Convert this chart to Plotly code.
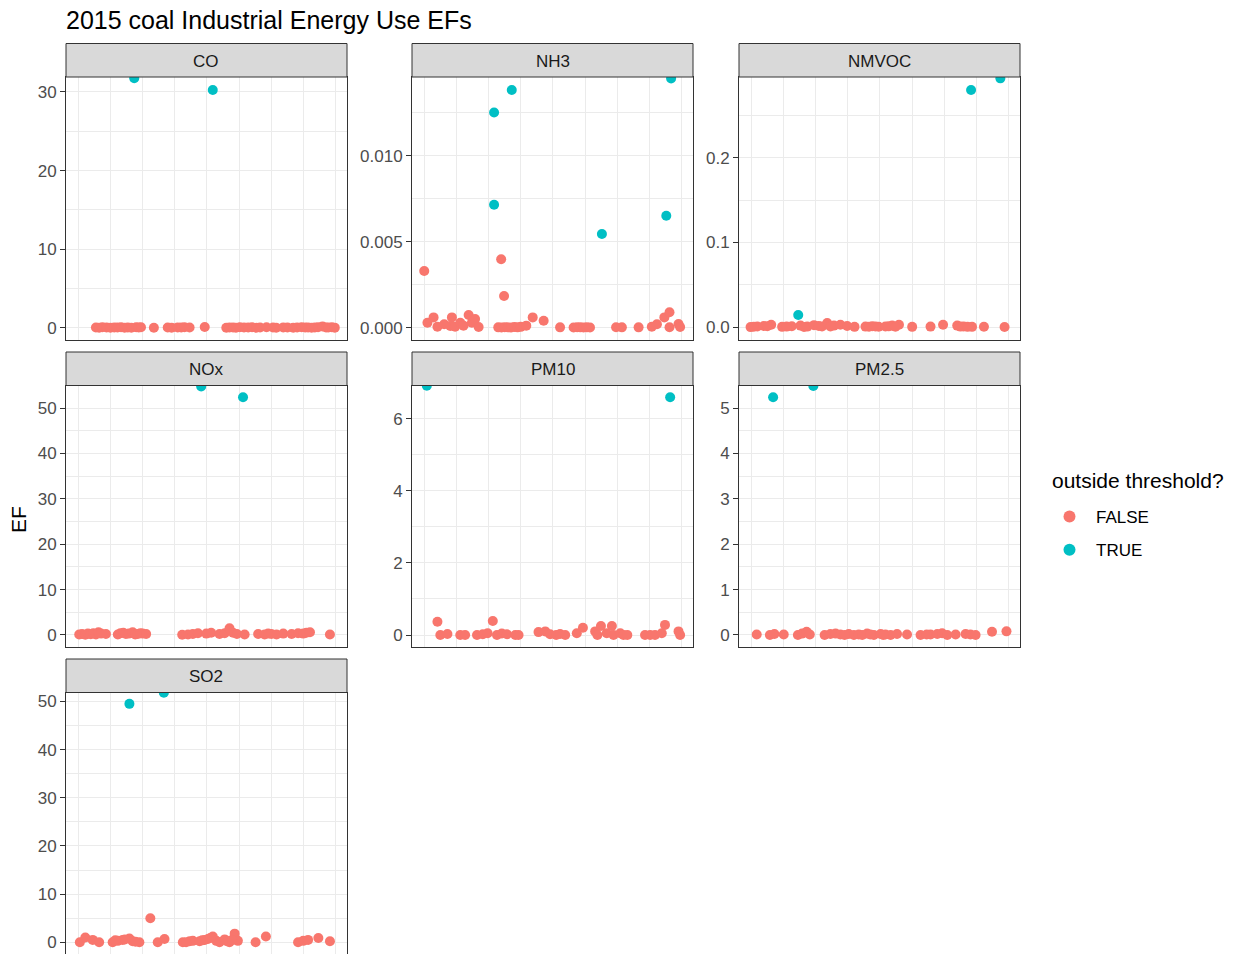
import plotly.graph_objects as go

F, T = False, True

POLLUTANTS = ["CO", "NH3", "NMVOC", "NOx", "PM10", "PM2.5", "SO2"]
LEGEND_TITLE = "outside threshold?"
TITLE = "2015 coal Industrial Energy Use EFs"
Y_TITLE = "EF"

# ---- emission factors per pollutant: source position, EF value, outside-threshold flag ----
CO_X = [1.74, 4.18,
        0.55, 0.65, 0.75, 0.88, 1.00, 1.12, 1.22, 1.33, 1.44, 1.54, 1.65, 1.80, 1.88, 1.95,
        2.35, 2.78, 2.90, 3.09, 3.20, 3.30, 3.46, 3.93, 4.60, 4.70, 4.81, 4.90, 5.02, 5.15,
        5.28, 5.40, 5.53, 5.65, 5.85, 6.05, 6.15, 6.37, 6.50, 6.68, 6.80, 6.94, 7.05, 7.14,
        7.25, 7.35, 7.45, 7.59, 7.70, 7.77, 7.88, 7.97]
CO_EF = [31.74, 30.25,
         0.05, 0.04, 0.08, 0.06, 0.03, 0.07, 0.05, 0.09, 0.04, 0.06, 0.02, 0.08, 0.05, 0.10,
         0.03, 0.06, 0.04, 0.07, 0.05, 0.08, 0.06, 0.12, 0.03, 0.05, 0.07, 0.04, 0.09, 0.06,
         0.05, 0.08, 0.04, 0.06, 0.10, 0.05, 0.03, 0.07, 0.06, 0.04, 0.05, 0.08, 0.06, 0.05,
         0.04, 0.07, 0.09, 0.20, 0.06, 0.05, 0.08, 0.04]
CO_OUT = [T, T] + [F] * 50

NH3_X = [2.17, 2.72, 2.17, 5.52, 7.52, 7.67,
         0.00, 2.39, 2.48,
         0.10, 0.29, 0.41, 0.62, 0.81, 0.86, 0.96, 1.12, 1.22, 1.38, 1.48, 1.58, 1.69,
         2.30, 2.40, 2.50, 2.60, 2.70, 2.80, 2.90, 3.00, 3.17, 3.37, 3.71, 4.22,
         4.64, 4.75, 4.85, 4.95, 5.05, 5.15, 5.96, 6.14, 6.66, 7.07, 7.23, 7.46,
         7.62, 7.62, 7.90, 7.95]
NH3_EF = [0.01252, 0.01382, 0.00715, 0.00545, 0.00651, 0.01450,
          0.00330, 0.00398, 0.00184,
          0.00029, 0.00060, 0.00006, 0.00020, 0.00010, 0.00060, 0.00006, 0.00029, 0.00012,
          0.00074, 0.00029, 0.00050, 0.00004,
          0.00002, 0.00001, 0.00003, 0.00002, 0.00001, 0.00004, 0.00002, 0.00005, 0.00012,
          0.00060, 0.00040, 0.00002,
          0.00001, 0.00003, 0.00002, 0.00001, 0.00002, 0.00001, 0.00003, 0.00002, 0.00002,
          0.00006, 0.00020, 0.00060, 0.00090, 0.00003, 0.00022, 0.00004]
NH3_OUT = [T] * 6 + [F] * 44

NMVOC_X = [1.46, 6.83, 7.74,
           -0.02, 0.19, 0.39, 0.62, 0.96, 1.26, 1.53, 1.74, 1.95, 2.20, 2.36, 2.57, 2.77,
           2.98, 3.21, 3.55, 3.76, 3.96, 4.17, 4.38, 4.59, 5.00, 5.57, 5.96, 6.40, 6.60,
           6.86, 7.23, 7.87, 0.08, 0.50, 1.10, 1.64, 2.10, 2.46, 3.66, 3.86, 4.27, 4.48,
           6.50, 6.72]
NMVOC_EF = [0.0145, 0.2798, 0.2936,
            0.0002, 0.0010, 0.0015, 0.0030, 0.0005, 0.0012, 0.0020, 0.0008, 0.0025, 0.0010,
            0.0050, 0.0020, 0.0030, 0.0015, 0.0005, 0.0008, 0.0012, 0.0006, 0.0010, 0.0020,
            0.0030, 0.0005, 0.0008, 0.0030, 0.0020, 0.0010, 0.0005, 0.0007, 0.0004, 0.0006,
            0.0012, 0.0008, 0.0004, 0.0015, 0.0010, 0.0006, 0.0009, 0.0011, 0.0007, 0.0008,
            0.0005]
NMVOC_OUT = [T] * 3 + [F] * 41

NOX_X = [3.82, 5.12,
         0.03, 0.12, 0.22, 0.30, 0.39, 0.47, 0.55, 0.63, 0.71, 0.86, 1.23, 1.31, 1.40, 1.48,
         1.57, 1.69, 1.77, 1.85, 1.93, 2.00, 2.11, 3.23, 3.41, 3.56, 3.72, 3.98, 4.13, 4.39,
         4.55, 4.70, 4.81, 4.93, 5.17, 5.59, 5.79, 5.90, 6.00, 6.16, 6.37, 6.63, 6.83, 6.99,
         7.09, 7.20, 7.82]
NOX_EF = [54.8, 52.4,
          0.10, 0.20, 0.05, 0.30, 0.15, 0.40, 0.10, 0.60, 0.30, 0.20, 0.10, 0.40, 0.50, 0.20,
          0.30, 0.60, 0.10, 0.20, 0.40, 0.30, 0.20, 0.05, 0.10, 0.20, 0.40, 0.30, 0.50, 0.20,
          0.40, 1.50, 0.50, 0.20, 0.10, 0.20, 0.10, 0.30, 0.20, 0.10, 0.30, 0.20, 0.40, 0.30,
          0.50, 0.60, 0.10]
NOX_OUT = [T, T] + [F] * 45

PM10_X = [0.08, 7.64,
          0.41, 2.13,
          0.50, 0.72, 1.12, 1.27, 1.64, 1.82, 1.97, 2.26, 2.41, 2.57, 2.83, 2.93, 3.55, 3.76,
          3.91, 4.10, 4.22, 4.38, 4.74, 4.93, 5.31, 5.38, 5.49, 5.67, 5.83, 5.88, 6.09, 6.19,
          6.31, 6.86, 7.02, 7.17, 7.38, 7.48, 7.90, 7.95]
PM10_EF = [6.92, 6.60,
           0.37, 0.39,
           0.00, 0.03, 0.00, 0.00, 0.00, 0.02, 0.05, 0.00, 0.04, 0.02, 0.00, 0.00, 0.08, 0.10,
           0.02, 0.00, 0.03, 0.00, 0.05, 0.20, 0.10, 0.00, 0.25, 0.05, 0.25, 0.00, 0.05, 0.00,
           0.00, 0.00, 0.00, 0.00, 0.05, 0.28, 0.10, 0.00]
PM10_OUT = [T, T] + [F] * 38

PM25_X = [0.68, 1.93,
          0.17, 0.58, 0.72, 1.01, 1.45, 1.58, 1.72, 1.82, 2.28, 2.46, 2.62, 2.77, 3.03, 3.19,
          3.34, 3.60, 3.81, 4.02, 4.17, 4.33, 4.53, 4.84, 5.26, 5.57, 5.78, 5.93, 6.09, 6.35,
          6.66, 6.81, 6.97, 7.48, 7.93, 2.90, 3.45, 3.70, 4.10, 5.45]
PM25_EF = [5.24, 5.49,
           0.01, 0.00, 0.02, 0.01, 0.00, 0.03, 0.07, 0.01, 0.00, 0.02, 0.03, 0.01, 0.02, 0.00,
           0.01, 0.03, 0.00, 0.02, 0.01, 0.00, 0.02, 0.01, 0.00, 0.01, 0.02, 0.04, 0.00, 0.01,
           0.02, 0.01, 0.00, 0.07, 0.08, 0.00, 0.00, 0.01, 0.00, 0.01]
PM25_OUT = [T, T] + [F] * 38

SO2_X = [1.59, 2.66,
         2.24,
         0.05, 0.22, 0.45, 0.65, 1.07, 1.23, 1.38, 1.59, 1.69, 1.90, 2.47, 2.68, 3.25, 3.46,
         3.56, 3.77, 3.93, 4.03, 4.18, 4.29, 4.39, 4.55, 4.70, 4.86, 4.96, 5.51, 5.83, 6.83,
         6.99, 7.14, 7.46, 7.82, 1.15, 1.45, 1.78, 3.35, 3.85, 4.10, 4.62, 4.78]
SO2_EF = [49.5, 51.8,
          4.99,
          0.0, 1.0, 0.5, 0.0, 0.0, 0.3, 0.5, 0.8, 0.2, 0.0, 0.0, 0.7, 0.0, 0.2,
          0.3, 0.2, 0.5, 0.7, 1.2, 0.3, 0.0, 0.6, 0.0, 1.8, 0.3, 0.0, 1.2, 0.0,
          0.3, 0.5, 0.9, 0.2, 0.4, 0.6, 0.1, 0.0, 0.4, 0.9, 0.2, 0.5]
SO2_OUT = [T, T] + [F] * 41

SERIES = {
    "CO": (CO_X, CO_EF, CO_OUT),
    "NH3": (NH3_X, NH3_EF, NH3_OUT),
    "NMVOC": (NMVOC_X, NMVOC_EF, NMVOC_OUT),
    "NOx": (NOX_X, NOX_EF, NOX_OUT),
    "PM10": (PM10_X, PM10_EF, PM10_OUT),
    "PM2.5": (PM25_X, PM25_EF, PM25_OUT),
    "SO2": (SO2_X, SO2_EF, SO2_OUT),
}

# ---- facet axis settings (free y scales) ----
Y_RANGES = {
    "CO": [-1.53, 31.9], "NH3": [-0.000715, 0.01458], "NMVOC": [-0.015, 0.2952],
    "NOx": [-2.65, 55.0], "PM10": [-0.333, 6.925], "PM2.5": [-0.265, 5.50],
    "SO2": [-2.43, 51.86],
}
Y_DTICK = {"CO": 10, "NH3": 0.005, "NMVOC": 0.1, "NOx": 10, "PM10": 2, "PM2.5": 1, "SO2": 10}
Y_FORMAT = {"NH3": ".3f", "NMVOC": ".1f"}
X_RANGE = [-0.38, 8.35]

# ---- page geometry (pixels) ----
W, H = 1238, 954
COLS = [(66, 347), (412, 693), (739, 1020)]
ROWS = [(77, 340), (385.5, 647), (692.5, 954)]
STRIP_H = 33.5

COLOR = {False: "#F8766D", True: "#00BFC4"}
FONT = "Liberation Sans, Arial, sans-serif"
GRID = "#EBEBEB"
FRAME = "#333333"

fig = go.Figure()
shapes, annotations = [], []

for i, name in enumerate(POLLUTANTS):
    r, c = divmod(i, 3)
    k = "" if i == 0 else str(i + 1)
    x0, x1 = COLS[c]
    y0, y1 = ROWS[r]
    xs, ys, flags = SERIES[name]
    for flag in (False, True):
        px = [x for x, f in zip(xs, flags) if f == flag]
        py = [y for y, f in zip(ys, flags) if f == flag]
        fig.add_trace(go.Scatter(
            x=px, y=py, mode="markers", xaxis="x" + k, yaxis="y" + k,
            marker=dict(color=COLOR[flag], size=10, line=dict(width=0)),
            name=str(flag).upper(), legendgroup=str(flag), showlegend=(i == 0),
            cliponaxis=True, hoverinfo="x+y+name",
        ))
    fig.layout["xaxis" + k] = dict(
        domain=[x0 / W, x1 / W], anchor="y" + k, range=X_RANGE,
        showticklabels=False, ticks="", dtick=2, tick0=0,
        showgrid=True, gridcolor=GRID, gridwidth=1.4, zeroline=False,
        minor=dict(dtick=1, tick0=0, showgrid=True, gridcolor=GRID, gridwidth=0.8, ticks=""),
        showline=True, linecolor=FRAME, linewidth=1, mirror=True, fixedrange=True,
    )
    yax = dict(
        domain=[1 - y1 / H, 1 - y0 / H], anchor="x" + k, range=Y_RANGES[name],
        dtick=Y_DTICK[name], tick0=0, ticks="outside", ticklen=5, tickwidth=1,
        tickcolor=FRAME, tickfont=dict(family=FONT, size=17, color="#4D4D4D"),
        showgrid=True, gridcolor=GRID, gridwidth=1.4, zeroline=False,
        minor=dict(dtick=Y_DTICK[name] / 2, tick0=0, showgrid=True, gridcolor=GRID,
                   gridwidth=0.8, ticks=""),
        showline=True, linecolor=FRAME, linewidth=1, mirror=True, fixedrange=True,
    )
    if name in Y_FORMAT:
        yax["tickformat"] = Y_FORMAT[name]
    fig.layout["yaxis" + k] = yax

    # facet strip
    shapes.append(dict(
        type="rect", xref="paper", yref="paper",
        x0=x0 / W, x1=x1 / W, y0=1 - y0 / H, y1=1 - (y0 - STRIP_H) / H,
        fillcolor="#D9D9D9", line=dict(color=FRAME, width=1), layer="above",
    ))
    annotations.append(dict(
        xref="paper", yref="paper", x=(x0 + x1) / 2 / W, y=1 - (y0 - STRIP_H / 2 + 1) / H,
        text=name, showarrow=False, xanchor="center", yanchor="middle",
        font=dict(family=FONT, size=17, color="#1A1A1A"),
    ))

annotations.append(dict(
    xref="paper", yref="paper", x=64 / W, y=1 - 20 / H, text=TITLE, showarrow=False,
    xanchor="left", yanchor="middle", font=dict(family=FONT, size=25, color="#000000"),
))
annotations.append(dict(
    xref="paper", yref="paper", x=18 / W, y=1 - 520 / H, text=Y_TITLE, showarrow=False,
    textangle=-90, xanchor="center", yanchor="middle",
    font=dict(family=FONT, size=21, color="#000000"),
))
# legend heading
annotations.append(dict(
    xref="paper", yref="paper", x=1050 / W, y=1 - 480 / H, text=LEGEND_TITLE,
    showarrow=False, xanchor="left", yanchor="middle",
    font=dict(family=FONT, size=21, color="#000000"),
))

fig.update_layout(
    width=W, height=H, margin=dict(l=0, r=0, t=0, b=0),
    paper_bgcolor="white", plot_bgcolor="white",
    shapes=shapes, annotations=annotations,
    legend=dict(
        font=dict(family=FONT, size=17, color="#000000"),
        x=1043 / W, y=1 - 499 / H, xanchor="left", yanchor="top",
        bgcolor="rgba(0,0,0,0)", borderwidth=0, itemsizing="constant",
        itemwidth=43, tracegroupgap=8,
    ),
    hovermode="closest",
)

fig.write_html("out.html")
